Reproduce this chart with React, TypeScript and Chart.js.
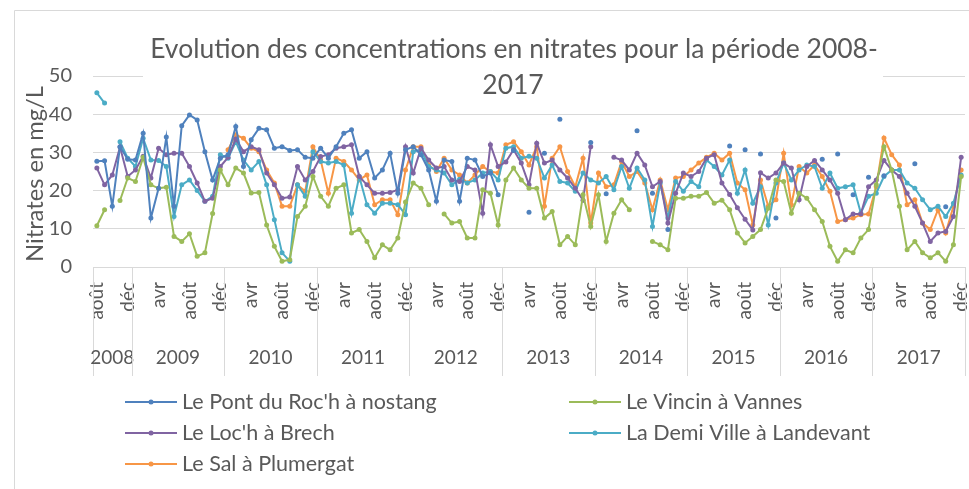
import React, { useEffect, useRef } from 'react';
import { Chart, registerables } from 'chart.js';

Chart.register(...registerables);

const monthNames = ['janv', 'févr', 'mars', 'avr', 'mai', 'juin', 'juil', 'août', 'sept', 'oct', 'nov', 'déc'];
const years = ['2008', '2009', '2010', '2011', '2012', '2013', '2014', '2015', '2016', '2017'];
const firstMonthIndex = 7; // août 2008

const categories: string[] = [];
const categoryYears: string[] = [];
years.forEach((yr, yi) => {
  for (let m = yi === 0 ? firstMonthIndex : 0; m < 12; m++) {
    categories.push(monthNames[m]);
    categoryYears.push(yr);
  }
});

const titleLines = ['Evolution des concentrations en nitrates pour la période 2008-', '2017'];
const yAxisTitle = 'Nitrates en mg/L';
const yTicks = [0, 10, 20, 30, 40, 50];

const seriesNames = [
  "Le Pont du Roc'h à nostang",
  'Le Vincin à Vannes',
  "Le Loc'h à Brech",
  'La Demi Ville à Landevant',
  'Le Sal à Plumergat',
];
const seriesColors = ['#4F81BD', '#9BBB59', '#8064A2', '#4BACC6', '#F79646'];

const N = null;

const pontDuRoch = [
  27.7, 27.8, 15.9, 31.5, 28.2,
  28, 35, 12.8, 20.6, 34, 15.9, 37, 39.8, 38.5, 30.2, 22.8, 28.5,
  29.4, 36.8, 26.3, 33.3, 36.3, 35.9, 31.1, 31.5, 30.5, 30.7, 28.7, 28.5,
  31.1, 28.5, 31.5, 35, 35.9, 28.5, 30.2, 23.3, 25.4, 29.8, 19.3, 30.7,
  31.5, 29.4, 25.4, 17.2, 28, 27.6, 17.2, 28.5, 28, 23.7, 24.6, 18.9,
  N, 30.5, N, 14.3, N, 29.8, N, 38.7, N, N, N, 32.6,
  N, 19.2, N, N, N, 35.7, N, 19.3, N, 9.8, N, N,
  N, N, N, N, N, 31.7, N, 30.7, N, 29.6, N, 12.8,
  N, N, N, N, N, 28.2, N, 29.6, N, 18.9, N, 23.5,
  N, 23.9, N, N, N, 27, N, N, N, 15.8, N, N,
];

const vincin = [
  10.8, 15, N, 17.4, 23.3,
  22.4, 28.7, 21.5, 20.6, 20.9, 8, 6.7, 8.7, 2.8, 3.7, 14, 25.4,
  21.5, 25.9, 24.6, 19.4, 19.5, 11, 5.4, 1.5, 1.9, 13.2, 15.9, 23.7,
  18.5, 15.9, 20.6, 21.5, 8.9, 9.8, 6.7, 2.4, 5.8, 4.5, 7.6, 17,
  22, 20.6, 16.3, N, 13.9, 11.5, 11.9, 7.6, 7.6, 20.2, 19.3, 11,
  22.8, 25.9, 22.8, 20.6, 20.6, 12.8, 14.5, 5.8, 8, 5.8, 18.9, 10.6,
  18.9, 6.7, 14.1, 17.6, 15, N, N, 6.7, 5.8, 4.5, 18, 18,
  18.5, 18.5, 19.5, 16.7, 17.5, 15, 8.9, 6.3, 8, 9.8, 15.4, 22.8,
  22.4, 14.1, 19.3, 18, 15, 11.9, 5.4, 1.5, 4.5, 3.7, 7.6, 9.8,
  21.5, 31.5, 25.4, 15.9, 4.5, 6.7, 3.7, 2.4, 3.7, 1.5, 5.8, 23.7,
];

const lochBrech = [
  25.9, 21.5, 24.1, 31.4, 23.7,
  25.4, 29, 23.3, 31.1, 29.4, 29.8, 29.8, 26.3, 22, 17.2, 18, 26.3,
  28.7, 33.5, 30.2, 31.5, 30.7, 24.6, 21.5, 18, 18.3, 26.3, 22.8, 25,
  28.9, 29.4, 31.1, 31.5, 32, 23.7, 21.5, 19.3, 19.3, 19.5, 20.2, 31.5,
  24.6, 31.1, 28, 25.9, 26.3, 22.8, 22.4, 26.3, 25.4, 14.1, 32, 26.3,
  27.5, 30.7, 27.2, 21.5, 32.4, 27.2, 28, 25.4, 23.3, 20.6, 17.5, 31.5,
  N, N, 28.7, 28, 25.4, 29.8, 26.7, 21, 22.4, 11.5, 19.3, 24.6,
  23.7, 25, 28.5, 29.4, 22, 19, 15.5, 12.5, 9.7, 24.7, 23.3, 24.6,
  27.2, 25.9, 17.6, 26.3, 27.9, 25.4, 22.8, 19.3, 12.4, 13.9, 13.9, 21,
  22.8, 27.9, 25.4, 23.7, 19.3, 15.9, 11.5, 6.7, 8.9, 9.3, 13.2, 28.7,
];

const demiVille = [
  45.6, 42.9, N, 32.8, 28.5,
  26.3, 33.7, 28, 27.9, 26.3, 13.2, 21.5, 22.8, 20, 17.2, 18.5, 29.4,
  28.5, 32.8, 28, 25.4, 27.6, 21.5, 12.4, 3.7, 1.5, 21.5, 18.5, 30.2,
  27.6, 27.2, 27.6, 26.7, 14.1, 23.7, 16.3, 14.1, 16.7, 16.7, 16.3, 13.7,
  30.2, 30.7, 26.3, 25.4, 24.6, 21.5, 23, 22, 22.8, 24.6, 25, 22.8,
  31.1, 31.5, 28.5, 29, 28.5, 23.3, 26.7, 22.4, 22, 19.8, 24.6, 22.8,
  22, 23.7, 20.2, 26.3, 20.6, 25.9, 22.8, 10.6, 22, 12.8, 22.4, 19.8,
  22.4, 21, 28, 26.3, 24.1, 28, 19.3, 25.4, 16.7, 21, 11, 22,
  27.2, 22.8, 25.4, 26.7, 26.3, 20.6, 24.6, 20.6, 21, 21.5, 14.1, 18.5,
  19.3, 23.7, 25.4, 25.4, 22, 20.6, 17.6, 15, 15.9, 13.2, 16.7, 24.1,
];

const salPlumergat = [
  N, N, N, N, N,
  N, N, N, N, N, N, N, N, N, N, N, N,
  30.7, 34.6, 33.7, 31.1, 30.2, 25.4, 22, 15.9, 15.9, 21.5, 19.8, 31.5,
  28, 19.3, 28.5, 27.6, 25.4, 22.8, 24.1, 16.3, 17.6, 17.6, 13.7, 25.4,
  31.5, 31.5, 26.7, 25, 28.5, 25.4, 24.1, 22, 24.1, 26.3, 25, 24.6,
  32, 32.8, 30.2, 26.7, 31.5, 15.9, 28.5, 31.5, 25, 21, 28.5, 11.5,
  24.6, 21, 21.5, 27.6, 23.7, 25, 22, 15, 22.8, 15, 23.3, 23.7,
  25.4, 27.2, 28.7, 29.8, 28, 29.8, 22, 20.2, 11, 22.8, 15.9, 17.6,
  29.8, 16.3, 26.3, 24.6, 26.7, 23.7, 19.8, 11.9, 12.4, 12.8, 13.7, 13.9,
  21, 33.8, 29.4, 26.7, 16.3, 17.6, 11.5, 9.8, 15, 8.9, 15.9, 25.4,
];

const seriesData = [pontDuRoch, vincin, lochBrech, demiVille, salPlumergat];

const FONT = 'Lato, "Open Sans", sans-serif';
const TEXT = '#595959';
const GRID = '#d9d9d9';

function fitSize(ctx: CanvasRenderingContext2D, text: string, target: number) {
  ctx.font = `100px ${FONT}`;
  const w = ctx.measureText(text).width;
  return (100 * target) / w;
}

const decorPlugin = {
  id: 'decor',
  afterDraw(chart: any) {
    const { ctx, chartArea, scales } = chart;
    const x = scales.x;
    const bw = (chartArea.right - chartArea.left) / categories.length;
    ctx.save();

    // year separators + labels
    ctx.strokeStyle = GRID;
    ctx.lineWidth = 1;
    ctx.font = `19px ${FONT}`;
    ctx.fillStyle = TEXT;
    ctx.textAlign = 'center';
    ctx.textBaseline = 'middle';
    let start = 0;
    years.forEach((yr, yi) => {
      let end = start;
      while (end + 1 < categoryYears.length && categoryYears[end + 1] === yr) end++;
      const left = x.getPixelForValue(start) - bw / 2;
      const right = x.getPixelForValue(end) + bw / 2;
      const drawV = (px: number) => {
        const xx = Math.round(px) + 0.5;
        ctx.beginPath();
        ctx.moveTo(xx, chartArea.bottom);
        ctx.lineTo(xx, 376);
        ctx.stroke();
      };
      drawV(left);
      if (yi === years.length - 1) drawV(right);
      ctx.fillText(yr, (left + right) / 2, 358);
      start = end + 1;
    });

    // title with white background (overlaps plot top)
    ctx.fillStyle = '#ffffff';
    ctx.fillRect(143, 28, 740, 74);
    const tSize = fitSize(ctx, titleLines[0], 728);
    ctx.font = `${tSize}px ${FONT}`;
    ctx.fillStyle = TEXT;
    ctx.textAlign = 'center';
    ctx.textBaseline = 'middle';
    ctx.fillText(titleLines[0], 514, 49);
    ctx.fillText(titleLines[1], 513, 85);

    // y-axis title
    const ySize = fitSize(ctx, yAxisTitle, 176);
    ctx.save();
    ctx.translate(35, 174);
    ctx.rotate(-Math.PI / 2);
    ctx.font = `${ySize}px ${FONT}`;
    ctx.fillText(yAxisTitle, 0, 0);
    ctx.restore();

    // legend (two columns)
    const lSize = fitSize(ctx, seriesNames[0], 255);
    const cols = [125, 569];
    const rows = [402, 433, 464];
    seriesNames.forEach((name, i) => {
      const cx = cols[i % 2];
      const cy = rows[Math.floor(i / 2)];
      ctx.strokeStyle = seriesColors[i];
      ctx.lineWidth = 2;
      ctx.beginPath();
      ctx.moveTo(cx, cy);
      ctx.lineTo(cx + 52, cy);
      ctx.stroke();
      ctx.fillStyle = seriesColors[i];
      ctx.beginPath();
      ctx.arc(cx + 26, cy, 2.5, 0, Math.PI * 2);
      ctx.fill();
      ctx.font = `${lSize}px ${FONT}`;
      ctx.fillStyle = TEXT;
      ctx.textAlign = 'left';
      ctx.textBaseline = 'middle';
      ctx.fillText(name, cx + 57, cy);
    });

    // outer frame (top/left visible)
    ctx.strokeStyle = GRID;
    ctx.lineWidth = 1;
    ctx.beginPath();
    ctx.moveTo(14.5, 1000);
    ctx.lineTo(14.5, 10.5);
    ctx.lineTo(2000, 10.5);
    ctx.stroke();

    ctx.restore();
  },
};

export default function App() {
  const canvasRef = useRef<HTMLCanvasElement | null>(null);

  useEffect(() => {
    if (!canvasRef.current) return;
    const chart = new Chart(canvasRef.current, {
      type: 'line',
      data: {
        labels: categories,
        datasets: seriesNames.map((name, i) => ({
          label: name,
          data: seriesData[i],
          borderColor: seriesColors[i],
          backgroundColor: seriesColors[i],
          pointBackgroundColor: seriesColors[i],
          pointBorderColor: seriesColors[i],
          borderWidth: 2,
          pointRadius: 2.5,
          pointBorderWidth: 0,
          spanGaps: false,
          tension: 0,
        })),
      },
      options: {
        responsive: false,
        animation: false,
        devicePixelRatio: 1,
        layout: { padding: { top: 76, right: 4, left: 0, bottom: 0 } },
        plugins: {
          legend: { display: false },
          title: { display: false },
          tooltip: { enabled: false },
        },
        scales: {
          x: {
            type: 'category',
            offset: true,
            grid: { display: false, drawTicks: false },
            border: { display: true, color: GRID, width: 1 },
            ticks: {
              autoSkip: false,
              minRotation: 90,
              maxRotation: 90,
              padding: 15,
              color: TEXT,
              font: { family: FONT, size: 19 },
              callback: (_v: any, i: number) => (i % 4 === 0 ? categories[i] : ''),
            },
            afterFit: (s: any) => {
              s.height = 489 - 267;
              s.paddingLeft = 0;
              s.paddingRight = 0;
            },
          },
          y: {
            min: 0,
            max: 50,
            afterBuildTicks: (s: any) => {
              s.ticks = yTicks.map((v) => ({ value: v }));
            },
            grid: { color: GRID, lineWidth: 1, drawTicks: false },
            border: { display: false },
            ticks: {
              padding: 21,
              color: TEXT,
              font: { family: FONT, size: 20 },
            },
            afterFit: (s: any) => {
              s.width = 93;
              s.paddingTop = 0;
              s.paddingBottom = 0;
            },
          },
        },
      },
      plugins: [decorPlugin],
    });
    return () => chart.destroy();
  }, []);

  return (
    <div style={{ position: 'absolute', left: 0, top: 0, width: 969, height: 489, background: '#fff' }}>
      <canvas ref={canvasRef} width={969} height={489} style={{ display: 'block', width: 969, height: 489 }} />
    </div>
  );
}
